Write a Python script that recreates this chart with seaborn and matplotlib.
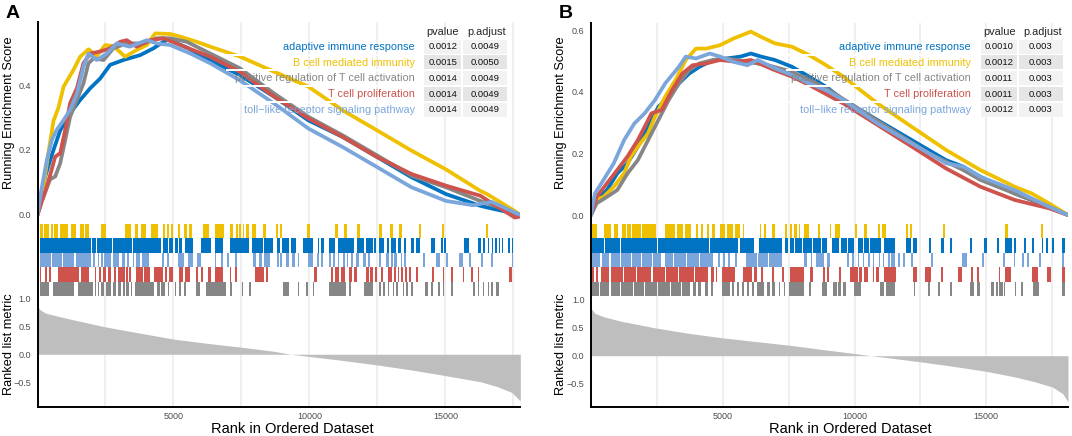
import matplotlib
matplotlib.use("Agg")
import pandas as pd
import matplotlib.pyplot as plt
from matplotlib.patches import Rectangle
import seaborn as sns

W, H = 1072, 436

# gene sets, in drawing order
set_names = ["adaptive immune response", "B cell mediated immunity",
             "positive regulation of T cell activation", "T cell proliferation",
             "toll\u2212like receptor signaling pathway"]
set_colors = ["#0073C2", "#EFC000", "#868686", "#CD534C", "#7AA6DC"]
# rug rows from top to bottom (index into set_names)
rug_order = [1, 0, 4, 3, 2]

# ---------------- panel A ----------------
n_genes_a = 17750
pvalue_a = [0.0012, 0.0015, 0.0014, 0.0014, 0.0014]
padjust_a = ["0.0049", "0.0050", "0.0049", "0.0049", "0.0049"]

es_a_adaptive = [(0, 0), (100, 0.05), (285, 0.118), (467, 0.169), (590, 0.2), (835, 0.26), (1200, 0.313),
                 (1570, 0.354), (1940, 0.39), (2305, 0.42), (2670, 0.462), (3160, 0.477), (3775, 0.492),
                 (4265, 0.513), (4630, 0.533), (4800, 0.54), (5500, 0.515), (6170, 0.483), (7430, 0.431),
                 (8700, 0.364), (9960, 0.291), (11220, 0.24), (12490, 0.178), (13750, 0.116), (15020, 0.064),
                 (16280, 0.028), (16530, 0.023), (17750, 0.0)]
es_a_bcell = [(0, 0), (100, 0.03), (220, 0.087), (400, 0.19), (590, 0.29), (770, 0.33), (960, 0.395),
              (1320, 0.446), (1570, 0.487), (1875, 0.51), (2180, 0.49), (2490, 0.523), (2790, 0.52),
              (3220, 0.487), (3650, 0.508), (4020, 0.523), (4330, 0.559), (4880, 0.557), (5250, 0.549),
              (5860, 0.533), (6350, 0.518), (7430, 0.488), (8700, 0.441), (9960, 0.395), (11220, 0.322),
              (12490, 0.26), (13750, 0.198), (15020, 0.14), (16280, 0.074), (16530, 0.064), (17545, 0.012),
              (17750, 0.0)]
es_a_posreg = [(0, 0), (150, 0.04), (285, 0.07), (467, 0.11), (650, 0.118), (835, 0.159), (1020, 0.231),
               (1200, 0.302), (1450, 0.354), (1690, 0.405), (1875, 0.467), (2060, 0.482), (2430, 0.477),
               (2790, 0.513), (3280, 0.528), (3900, 0.528), (4390, 0.544), (4880, 0.544), (5490, 0.533),
               (6350, 0.497), (7430, 0.452), (8700, 0.374), (9960, 0.302), (11220, 0.245), (12490, 0.183),
               (13750, 0.121), (15020, 0.085), (16280, 0.043), (17750, 0.0)]
es_a_tprolif = [(0, 0), (150, 0.04), (285, 0.072), (467, 0.123), (650, 0.179), (835, 0.19), (1020, 0.262),
                (1200, 0.344), (1450, 0.39), (1690, 0.467), (1940, 0.497), (2305, 0.503), (2670, 0.513),
                (3040, 0.533), (3280, 0.538), (3650, 0.518), (4140, 0.538), (4630, 0.544), (5250, 0.523),
                (6350, 0.487), (7430, 0.441), (8700, 0.364), (9960, 0.297), (11220, 0.24), (12490, 0.178),
                (13750, 0.126), (15020, 0.09), (16280, 0.059), (17545, -0.008), (17750, -0.005)]
es_a_toll = [(0, 0), (150, 0.08), (345, 0.169), (530, 0.231), (710, 0.262), (960, 0.292), (1200, 0.323),
             (1450, 0.374), (1690, 0.456), (1875, 0.497), (2180, 0.477), (2550, 0.497), (2915, 0.528),
             (3400, 0.518), (4020, 0.538), (4390, 0.528), (4880, 0.523), (5620, 0.497), (6350, 0.467),
             (7430, 0.415), (8700, 0.343), (9960, 0.266), (11220, 0.209), (12490, 0.147), (13750, 0.085),
             (15020, 0.043), (16000, 0.03), (16700, 0.04), (17750, 0.0)]

hits_a_adaptive = [(75, 1950), (2000, 2140), (2180, 2750), (2790, 3480), (3530, 4545), (4610, 4790),
                   (4850, 4975), (5070, 5160), (5220, 5320), (5440, 5710), (6020, 6380), (6510, 6810),
                   (7060, 7790), (7890, 8280), (8340, 8670), (8800, 8900), (8990, 9260), (9320, 9510),
                   (9750, 10120), (10300, 10360), (10430, 10550), (10730, 10920), (11040, 11650),
                   (11740, 12020), (12080, 12330), (12390, 12450), (12570, 12750), (12840, 12940),
                   (13000, 13180), (13240, 13370), (13490, 13550), (13730, 13860), (13920, 14060),
                   (14470, 14630), (14840, 14900), (14960, 15020), (15690, 15880), (16180, 16310),
                   (16370, 16470), (16550, 16610), (16710, 16760), (16830, 16890), (16960, 17020),
                   (17080, 17130), (17290, 17370), (17430, 17500)]
hits_a_bcell = [(75, 200), (230, 440), (480, 560), (600, 750), (830, 1120), (1240, 1400), (1570, 1700),
                (1740, 1910), (2340, 2520), (3200, 3440), (3570, 3690), (3810, 3990), (4180, 4420),
                (4610, 4700), (4760, 4850), (4900, 4970), (5160, 5240), (5400, 5500), (5560, 5690),
                (6080, 6320), (6530, 6840), (7060, 7180), (7300, 7360), (7420, 7480), (7540, 7600),
                (7680, 7790), (7890, 8040), (8280, 8400), (8770, 8830), (8930, 8990), (9900, 10020),
                (10950, 11050), (11280, 11370), (11740, 11860), (12570, 12670), (12960, 13060),
                (13300, 13400), (14040, 14110), (14870, 14950), (16490, 16560)]
hits_a_posreg = [(75, 440), (560, 1360), (1480, 2035), (2100, 2160), (2220, 2280), (2340, 2460),
                 (2525, 2710), (2770, 2890), (2950, 3075), (3140, 3200), (3260, 3360), (3420, 3480),
                 (3570, 4300), (4390, 4490), (4550, 4670), (4790, 4850), (5040, 5100), (5220, 5280),
                 (5400, 5460), (5830, 5960), (6200, 6940), (7080, 7160), (7520, 7570), (7770, 7850),
                 (9020, 9260), (9570, 9630), (9870, 9940), (10120, 10180), (10710, 11350), (11470, 11530),
                 (12020, 12330), (12570, 12630), (12690, 12790), (12870, 12940), (13060, 13120),
                 (13180, 13240), (13430, 13490), (13550, 13610), (13730, 13790), (14260, 14350),
                 (14470, 14530), (14710, 14780), (14900, 14960), (15200, 15270), (16000, 16100),
                 (16180, 16250), (16370, 16430), (16550, 16610), (16670, 16730), (16860, 16980)]
hits_a_tprolif = [(75, 135), (260, 345), (440, 500), (750, 1545), (1600, 1910), (2100, 2160), (2280, 2340),
                  (2400, 2525), (2590, 2710), (2830, 2890), (2950, 3200), (3260, 3320), (3380, 3440),
                  (3630, 3870), (3930, 4120), (4300, 4610), (4670, 4750), (4830, 4975), (5220, 5340),
                  (5440, 5590), (5830, 5890), (6020, 6080), (6260, 6380), (6530, 6810), (7060, 7120),
                  (7280, 7330), (8010, 8340), (8400, 8490), (10180, 10270), (10790, 10880), (10950, 11100),
                  (11160, 11320), (11470, 11550), (11650, 11740), (12080, 12180), (12230, 12350),
                  (12420, 12470), (12630, 12690), (12870, 13040), (13120, 13180), (13240, 13300),
                  (13370, 13430), (13520, 13570), (13670, 13730), (13920, 13980), (14510, 14590),
                  (14900, 14960), (15200, 15290), (15630, 15690), (15940, 16000), (16180, 16250),
                  (17350, 17450)]
hits_a_toll = [(75, 500), (540, 900), (940, 1350), (1400, 1970), (2035, 2130), (2220, 2280), (2340, 2400),
               (2460, 2710), (2790, 3015), (3110, 3200), (3280, 3380), (3505, 3565), (3630, 3770),
               (3850, 4090), (4580, 4640), (4750, 4830), (5160, 5370), (5530, 5710), (5860, 6020),
               (6510, 6570), (6750, 6810), (6960, 7030), (7280, 7330), (7910, 8040), (8160, 8260),
               (8340, 8530), (8800, 8870), (8930, 8990), (9140, 9260), (9360, 9450), (9570, 9630),
               (9940, 10140), (10270, 10340), (10430, 10510), (10730, 10780), (10850, 10920), (11040, 11100),
               (11220, 11300), (11370, 11420), (11530, 11590), (11710, 11830), (11960, 12080), (12140, 12230),
               (12570, 12630), (12810, 12940), (13000, 13060), (13120, 13200), (13370, 13400), (13490, 13550),
               (14160, 14240), (14650, 14800), (15020, 15080), (15510, 15660), (15880, 15950), (16310, 16370),
               (16670, 16730), (17440, 17500)]

metric_a = [(0, 0.85), (100, 0.79), (305, 0.73), (1065, 0.64), (2460, 0.49), (3600, 0.39), (5000, 0.27),
            (6140, 0.2), (7500, 0.125), (8680, 0.054), (9315, 0.0), (10000, -0.04), (11220, -0.11),
            (12490, -0.19), (13760, -0.28), (15000, -0.38), (16300, -0.49), (16930, -0.58),
            (17440, -0.68), (17750, -0.83)]

# ---------------- panel B ----------------
n_genes_b = 18100
pvalue_b = [0.0010, 0.0012, 0.0011, 0.0011, 0.0012]
padjust_b = ["0.003", "0.003", "0.003", "0.003", "0.003"]

es_b_adaptive = [(0, 0), (216, 0.049), (606, 0.081), (996, 0.135), (1386, 0.168), (1776, 0.222),
                 (2166, 0.286), (2556, 0.351), (2946, 0.384), (3336, 0.427), (3726, 0.459), (4116, 0.481),
                 (4636, 0.503), (5156, 0.508), (5676, 0.514), (6066, 0.524), (6456, 0.514), (6976, 0.503),
                 (7626, 0.481), (8276, 0.449), (8926, 0.416), (9576, 0.373), (10226, 0.341), (10876, 0.308),
                 (12176, 0.243), (13476, 0.178), (14126, 0.157), (14776, 0.124), (16076, 0.07),
                 (17376, 0.027), (18100, 0.0)]
es_b_bcell = [(0, 0), (150, 0.049), (476, 0.059), (866, 0.092), (1256, 0.135), (1516, 0.19), (1776, 0.222),
              (2166, 0.265), (2426, 0.319), (2816, 0.384), (3206, 0.438), (3596, 0.503), (3986, 0.54),
              (4376, 0.54), (4896, 0.551), (5416, 0.573), (6066, 0.595), (6456, 0.578), (6976, 0.557),
              (7626, 0.546), (8276, 0.519), (8926, 0.486), (9576, 0.449), (10226, 0.405), (10876, 0.362),
              (12176, 0.286), (13476, 0.211), (14776, 0.146), (16076, 0.092), (16726, 0.07),
              (17376, 0.038), (18100, 0.0)]
es_b_posreg = [(0, 0), (216, 0.038), (606, 0.059), (996, 0.081), (1386, 0.135), (1776, 0.178),
               (2166, 0.243), (2556, 0.308), (2946, 0.373), (3336, 0.427), (3726, 0.47), (4116, 0.492),
               (4636, 0.503), (5156, 0.508), (5936, 0.497), (6716, 0.486), (7626, 0.465), (8926, 0.411),
               (10226, 0.341), (11526, 0.27), (12826, 0.2), (14126, 0.146), (14776, 0.114),
               (16076, 0.07), (17376, 0.027), (18100, 0.0)]
es_b_tprolif = [(0, 0), (216, 0.059), (606, 0.103), (996, 0.146), (1386, 0.19), (1776, 0.243),
                (2036, 0.286), (2296, 0.33), (2686, 0.341), (3076, 0.405), (3466, 0.459), (3856, 0.486),
                (4376, 0.492), (4896, 0.503), (5546, 0.497), (6066, 0.503), (6976, 0.47), (7626, 0.449),
                (8276, 0.422), (9576, 0.362), (10876, 0.292), (12176, 0.222), (13476, 0.151),
                (14776, 0.092), (16076, 0.049), (17376, 0.022), (18100, 0.0)]
es_b_toll = [(0, 0), (150, 0.07), (476, 0.114), (866, 0.168), (1256, 0.243), (1646, 0.297), (2036, 0.33),
             (2426, 0.373), (2816, 0.427), (3076, 0.454), (3336, 0.481), (3596, 0.514), (3986, 0.508),
             (4506, 0.524), (4896, 0.514), (5416, 0.497), (5936, 0.486), (6326, 0.503), (6976, 0.476),
             (7626, 0.454), (8276, 0.427), (8926, 0.405), (9576, 0.373), (10876, 0.297), (12176, 0.232),
             (13476, 0.168), (14126, 0.157), (14776, 0.124), (16076, 0.081), (17376, 0.027), (18100, 0.0)]

hits_b_adaptive = [(50, 480), (520, 1110), (1150, 2520), (2560, 4490), (4530, 5590), (5660, 6170),
                   (6360, 7250), (7380, 7470), (7540, 7700), (7740, 8000), (8050, 8400), (8440, 8710),
                   (8780, 8970), (9160, 9420), (9480, 9700), (9750, 9990), (10120, 10310), (10370, 10560),
                   (10600, 11010), (11110, 11540), (11960, 12150), (12220, 12380), (12820, 12890),
                   (13300, 13400), (13620, 13710), (14380, 14470), (14930, 15020), (15400, 15490),
                   (15720, 15980), (16040, 16130), (16420, 16490), (16740, 16800), (17100, 17150),
                   (17280, 17340), (17500, 17570), (17890, 17990)]
hits_b_bcell = [(50, 240), (500, 750), (880, 1010), (1170, 1330), (1380, 1520), (1570, 1900), (1950, 2470),
                (2790, 3200), (3260, 3500), (3560, 3810), (3980, 4060), (4190, 4260), (4410, 4490),
                (4610, 4700), (4890, 5100), (5160, 5400), (5450, 5660), (5760, 5810), (6400, 6450),
                (6570, 6650), (6870, 7000), (7380, 7440), (7540, 7630), (7720, 7800), (7890, 7950),
                (8080, 8270), (8610, 8690), (9070, 9120), (9260, 9450), (10010, 10090), (10370, 10470),
                (10880, 10980), (11030, 11200), (11960, 12030), (12090, 12180), (13360, 13430),
                (15720, 15820), (17060, 17150)]
hits_b_posreg = [(50, 300), (350, 700), (750, 1100), (1150, 1600), (1650, 2000), (2050, 2500), (2550, 3000),
                 (3050, 3400), (3450, 3750), (3870, 4000), (4060, 4190), (4320, 4450), (4570, 4640),
                 (4960, 5280), (5340, 5430), (5530, 5630), (5720, 5810), (5910, 5980), (6100, 6190),
                 (6290, 6550), (6680, 6780), (6870, 7000), (7120, 7190), (7310, 7380), (7500, 8080),
                 (8270, 8330), (8780, 8970), (9200, 9330), (9380, 9500), (9580, 9670), (9990, 10240),
                 (10980, 11130), (11200, 11540), (12260, 12310), (12790, 12860), (13170, 13240),
                 (13620, 13680), (14380, 14550), (14640, 14770), (15190, 15300), (15350, 15450),
                 (15500, 15620), (15660, 15720), (16080, 16130), (16330, 16380), (16770, 16990),
                 (17890, 17990)]
hits_b_tprolif = [(50, 115), (200, 280), (370, 700), (750, 1200), (1250, 1700), (1750, 2280), (2340, 2800),
                  (2850, 3300), (3350, 3900), (3950, 4450), (4570, 4660), (4740, 4790), (4990, 5470),
                  (5780, 6100), (6190, 6290), (6450, 6520), (6870, 6930), (7250, 7340), (7540, 8080),
                  (8310, 8430), (8820, 8870), (8970, 9030), (9420, 9480), (9840, 10120), (10180, 10270),
                  (10370, 10500), (10690, 10750), (10820, 10910), (11130, 11580), (12220, 12380),
                  (12690, 12890), (13300, 13360), (13940, 14060), (14420, 14510), (14640, 14730),
                  (15470, 15530), (15720, 15950), (16740, 16970), (17320, 17440), (17890, 17980)]
hits_b_toll = [(50, 350), (400, 700), (750, 1100), (1150, 1500), (1560, 1900), (1950, 2300), (2350, 2660),
               (2790, 3100), (3150, 3600), (3650, 4100), (4150, 4640), (4830, 4890), (5020, 5080),
               (5210, 5280), (5470, 5530), (5890, 6300), (6350, 6700), (6760, 7250), (8080, 8180),
               (8330, 8400), (8520, 8840), (8970, 9070), (9730, 9800), (9920, 9990), (10120, 10180),
               (10310, 10370), (10500, 10600), (10690, 10750), (10910, 10980), (11070, 11130),
               (11260, 11330), (11390, 11520), (11650, 11710), (11840, 11930), (12150, 12220),
               (12890, 12980), (14060, 14260), (14850, 14930), (15620, 15700), (16040, 16100),
               (16360, 16420), (16550, 16610), (16990, 17060), (17890, 17950)]

metric_b = [(0, 0.85), (150, 0.76), (476, 0.70), (1126, 0.62), (2426, 0.50), (3726, 0.40), (5000, 0.32),
            (6326, 0.25), (7500, 0.19), (8800, 0.11), (10000, 0.04), (10620, 0.0), (11270, -0.036),
            (12500, -0.11), (13740, -0.19), (15000, -0.28), (16080, -0.38), (16860, -0.47),
            (17500, -0.56), (17900, -0.68), (18100, -0.83)]

# ---------------- drawing ----------------
sns.set_theme(style="white")
plt.rcParams["font.family"] = ["Liberation Sans", "DejaVu Sans"]
plt.rcParams["axes.unicode_minus"] = True

TICK_COL = "#4D4D4D"
GRID_COL = "#EBEBEB"


def fig_box(left, top, right, bottom):
    return [left / W, 1 - bottom / H, (right - left) / W, (bottom - top) / H]


def fig_xy(x, y):
    return x / W, 1 - y / H


def style_axis(ax, n_genes, show_bottom):
    ax.set_xlim(1, n_genes)
    ax.set_xticks([5000, 10000, 15000])
    ax.set_xticks([2500, 7500, 12500, 17500], minor=True)
    ax.grid(axis="x", which="both", color=GRID_COL, lw=1.1)
    ax.grid(axis="y", visible=False)
    ax.set_axisbelow(True)
    for side in ["top", "right"]:
        ax.spines[side].set_visible(False)
    ax.spines["left"].set_color("black")
    ax.spines["left"].set_linewidth(1.4)
    ax.spines["bottom"].set_visible(show_bottom)
    ax.spines["bottom"].set_color("black")
    ax.spines["bottom"].set_linewidth(1.4)
    ax.set_facecolor("white")
    ax.set_xlabel("")
    ax.set_ylabel("")
    ax.tick_params(axis="both", which="major", labelsize=6.5, labelcolor=TICK_COL,
                   color="#333333", length=2.75, width=0.6, pad=2)
    ax.tick_params(axis="x", which="major", pad=1)
    ax.tick_params(axis="x", which="minor", length=0)
    if not show_bottom:
        ax.tick_params(axis="x", which="both", length=0, labelbottom=False)


def draw_panel(letter, x_left, x_right, es_top, es_ylim, met_ylim, n_genes,
               es_curves, hits, metric, pvals, padjs, table, xlab_x, ylab_x):
    # running enrichment score
    ax_es = fig.add_axes(fig_box(x_left, es_top, x_right, 224))
    rows = []
    for name, pts in zip(set_names, es_curves):
        for r, s in pts:
            rows.append({"rank": r, "score": s, "set": name})
    df = pd.DataFrame(rows)
    sns.lineplot(data=df, x="rank", y="score", hue="set", hue_order=set_names,
                 palette=set_colors, lw=2.7, ax=ax_es, legend=False, sort=False,
                 estimator=None, errorbar=None, solid_joinstyle="round")
    ax_es.set_ylim(*es_ylim)
    yt = [0.0, 0.2, 0.4, 0.6] if es_ylim[1] > 0.6 else [0.0, 0.2, 0.4]
    ax_es.set_yticks(yt)
    ax_es.set_yticklabels([f"{v:.1f}" for v in yt])
    style_axis(ax_es, n_genes, False)

    # hit rug
    ax_rug = fig.add_axes(fig_box(x_left, 224, x_right, 296))
    for row, idx in enumerate(rug_order):
        bars = [(s, max(e - s, 35)) for s, e in hits[idx]]
        ax_rug.broken_barh(bars, (4 - row, 1), facecolors=set_colors[idx], lw=0)
    ax_rug.set_ylim(0, 5)
    ax_rug.set_yticks([])
    style_axis(ax_rug, n_genes, False)

    # ranked list metric
    ax_m = fig.add_axes(fig_box(x_left, 296, x_right, 406.5))
    mdf = pd.DataFrame(metric, columns=["rank", "metric"])
    ax_m.fill_between(mdf["rank"], 0, mdf["metric"], color="#BEBEBE", lw=0)
    ax_m.set_ylim(*met_ylim)
    mt = [-0.5, 0.0, 0.5, 1.0]
    ax_m.set_yticks(mt)
    ax_m.set_yticklabels([f"{v:.1f}".replace("-", "\u2212") for v in mt])
    style_axis(ax_m, n_genes, True)
    ax_m.set_xticklabels(["5000", "10000", "15000"])

    # titles
    fig.text(*fig_xy(xlab_x, 429), "Rank in Ordered Dataset", ha="center", va="center",
             fontsize=10.5, color="black")
    fig.text(*fig_xy(ylab_x, 113), "Running Enrichment Score", ha="center", va="center",
             rotation=90, fontsize=9.2, color="black")
    fig.text(*fig_xy(ylab_x, 344), "Ranked list metric", ha="center", va="center",
             rotation=90, fontsize=9.2, color="black")
    fig.text(*fig_xy(x_left - 32, 13), letter, ha="left", va="center",
             fontsize=14, fontweight="bold", color="black")

    # p-value table
    lab_left, lab_right, c1, c2, c3, c4 = table
    row_y = [46.7, 62.5, 78.3, 94.1, 109.9]
    fills = ["#F2F2F2", "#E5E5E5", "#F2F2F2", "#E5E5E5", "#F2F2F2"]
    for i in range(4):
        gy = (row_y[i] + row_y[i + 1]) / 2
        x0, y0 = fig_xy(lab_left, gy + 1.1)
        fig.add_artist(Rectangle((x0, y0), (c4 - lab_left) / W, 2.2 / H,
                                 transform=fig.transFigure, facecolor="white", lw=0, zorder=1))
    fig.text(*fig_xy((c1 + c2) / 2, 32.3), "pvalue", ha="center", va="center", fontsize=7.9)
    fig.text(*fig_xy((c3 + c4) / 2 + 1.5, 32.3), "p.adjust", ha="center", va="center", fontsize=7.9)
    for i, name in enumerate(set_names):
        y = row_y[i]
        for (a, b), txt in [((c1, c2), f"{pvals[i]:.4f}"), ((c3, c4), padjs[i])]:
            x0, y0 = fig_xy(a, y + 7)
            fig.add_artist(Rectangle((x0, y0), (b - a) / W, 14 / H, transform=fig.transFigure,
                                     facecolor=fills[i], lw=0, zorder=1.5))
            fig.text(*fig_xy((a + b) / 2, y), txt, ha="center", va="center",
                     fontsize=6.8, color="#111111")
        fig.text(*fig_xy(lab_right, y), name, ha="right", va="center",
                 fontsize=7.8, color=set_colors[i])


fig = plt.figure(figsize=(W / 100, H / 100), dpi=100)
fig.patch.set_facecolor("white")

draw_panel("A", 37.5, 520.3, 22, (-0.028, 0.594), (-0.929, 1.036), n_genes_a,
           [es_a_adaptive, es_a_bcell, es_a_posreg, es_a_tprolif, es_a_toll],
           [hits_a_adaptive, hits_a_bcell, hits_a_posreg, hits_a_tprolif, hits_a_toll],
           metric_a, pvalue_a, padjust_a,
           (226, 415, 424.3, 461, 463.3, 506.7), 292, 9)

draw_panel("B", 591, 1068, 23, (-0.029, 0.623), (-0.911, 1.071), n_genes_b,
           [es_b_adaptive, es_b_bcell, es_b_posreg, es_b_tprolif, es_b_toll],
           [hits_b_adaptive, hits_b_bcell, hits_b_posreg, hits_b_tprolif, hits_b_toll],
           metric_b, pvalue_b, padjust_b,
           (786, 970.7, 980.9, 1017.3, 1019, 1062.5), 850, 561)

fig.savefig("out.png", dpi=100, facecolor="white")
